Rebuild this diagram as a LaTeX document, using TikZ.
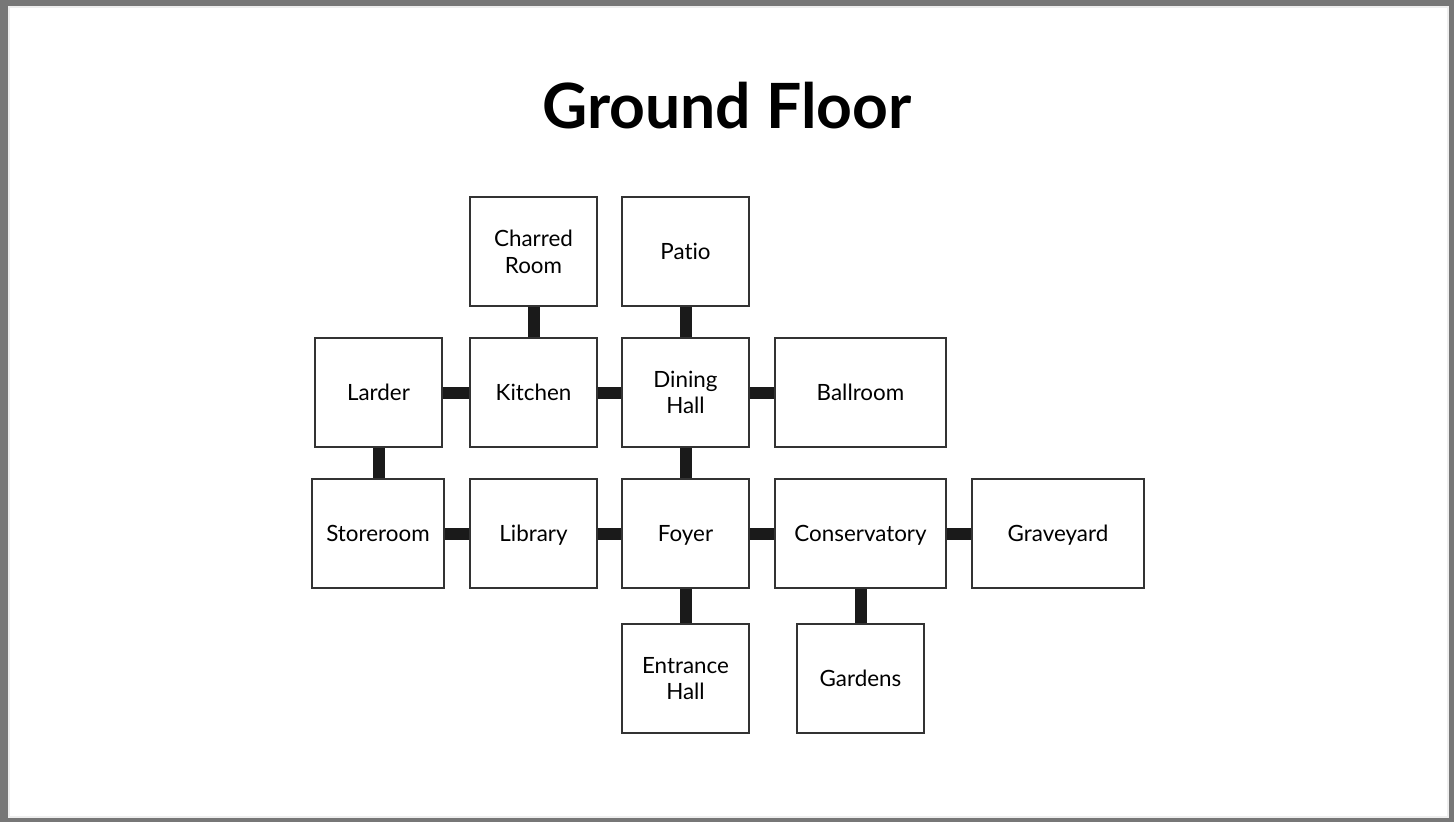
\documentclass[tikz,border=0pt]{standalone}
\usepackage{fontspec}
\setmainfont{Lato}[Ligatures=NoCommon]
\definecolor{frame}{HTML}{777777}
\definecolor{frameline}{HTML}{EEEEEE}
\definecolor{boxline}{HTML}{333333}
\definecolor{bar}{HTML}{1A1A1A}
\begin{document}
\begin{tikzpicture}[x=1pt,y=-1pt,
  room/.style={draw=boxline,line width=1.5pt,fill=white,inner sep=0pt,
    minimum width=127pt,minimum height=109pt,
    font=\fontsize{22.4}{26.7}\selectfont,align=center},
  wide/.style={minimum width=171pt},
  one/.style={text height=15.8pt,text depth=0pt},
  link/.style={draw=bar,line width=12pt}]
\useasboundingbox (0,0) rectangle (1454,822);
\fill[frame] (0,0) rectangle (1454,822);
\fill[frameline] (8,6) rectangle (1448.5,817.5);
\fill[white] (10,8) rectangle (1446.5,815.5);
\node[font=\bfseries\fontsize{62.4}{70}\selectfont,anchor=base] (title) at (727,128) {Ground Floor};
% rooms
\node[room] (charred) at (533.5,251.5) {Charred\\Room};
\node[room,one] (patio) at (685.5,251.5) {Patio};
\node[room,one] (larder) at (378.5,392.5) {Larder};
\node[room,one] (kitchen) at (533.5,392.5) {Kitchen};
\node[room] (dining) at (685.5,392.5) {Dining\\Hall};
\node[room,wide,one] (ballroom) at (860.5,392.5) {Ballroom};
\node[room,one,minimum width=132pt] (store) at (378,533.5) {Storeroom};
\node[room,one] (library) at (533.5,533.5) {Library};
\node[room,one] (foyer) at (685.5,533.5) {Foyer};
\node[room,wide,one] (conserv) at (860.5,533.5) {Conservatory};
\node[room,one,minimum width=172pt] (grave) at (1058,533.5) {Graveyard};
\node[room] (entrance) at (685.5,678.5) {Entrance\\Hall};
\node[room,one] (gardens) at (860.5,678.5) {Gardens};
% connectors
\draw[link] (charred.south) -- (kitchen.north);
\draw[link] (patio.south) -- (dining.north);
\draw[link] (larder.east) -- (kitchen.west);
\draw[link] (kitchen.east) -- (dining.west);
\draw[link] (dining.east) -- (ballroom.west);
\draw[link] (larder.south) -- (larder.south |- store.north);
\draw[link] (dining.south) -- (foyer.north);
\draw[link] (store.east) -- (library.west);
\draw[link] (library.east) -- (foyer.west);
\draw[link] (foyer.east) -- (conserv.west);
\draw[link] (conserv.east) -- (grave.west);
\draw[link] (foyer.south) -- (entrance.north);
\draw[link] (conserv.south) -- (gardens.north);
\end{tikzpicture}
\end{document}
